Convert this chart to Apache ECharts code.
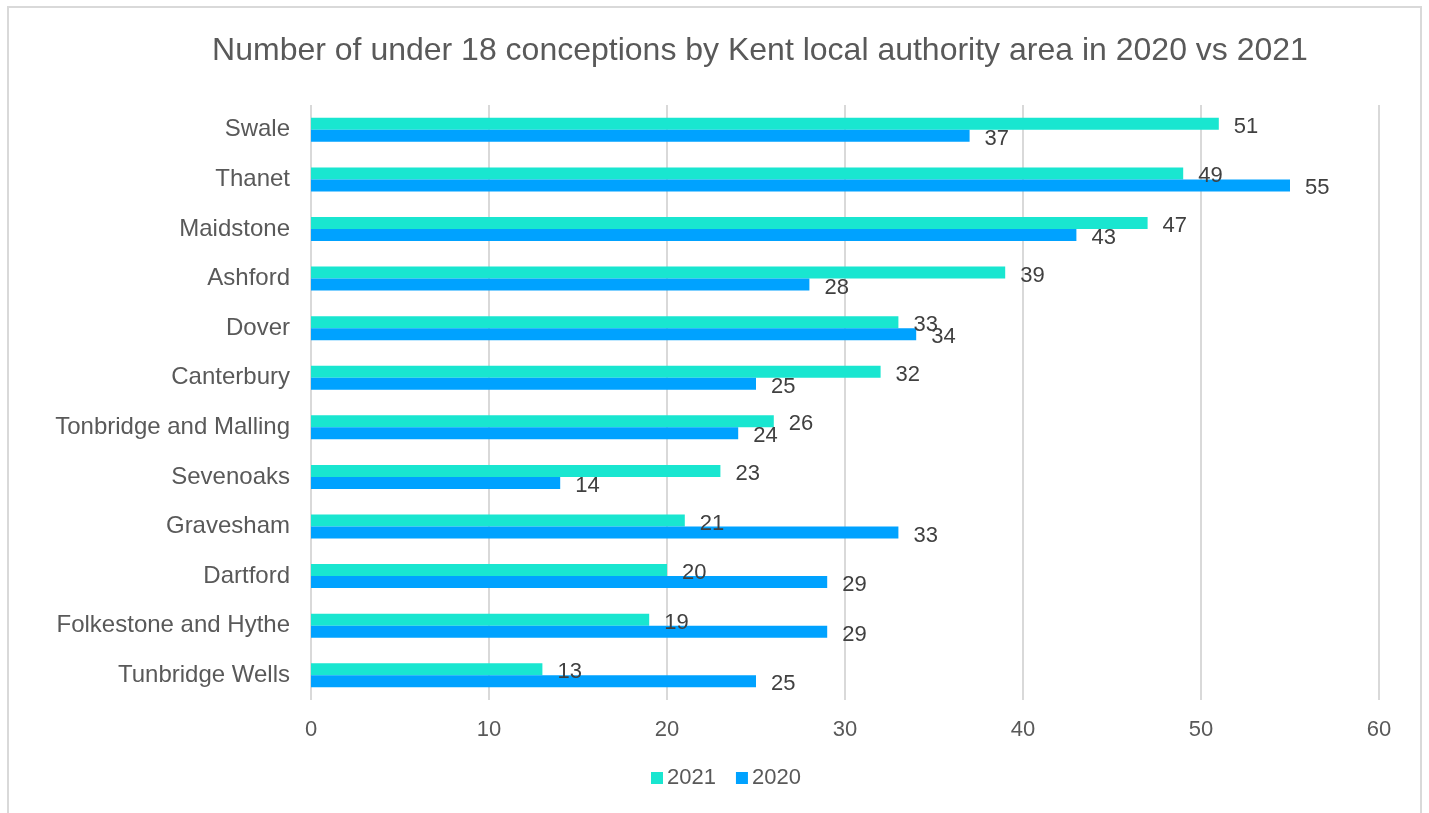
<!DOCTYPE html>
<html><head><meta charset="utf-8">
<script src="https://cdn.jsdelivr.net/npm/echarts@6/dist/echarts.min.js"></script>
<style>html,body{margin:0;padding:0;background:#fff}#c{width:1429px;height:813px}</style>
</head><body><div id="c"></div>
<script>
const categories = ["Swale","Thanet","Maidstone","Ashford","Dover","Canterbury","Tonbridge and Malling","Sevenoaks","Gravesham","Dartford","Folkestone and Hythe","Tunbridge Wells"];
const values2021 = [51,49,47,39,33,32,26,23,21,20,19,13];
const values2020 = [37,55,43,28,34,25,24,14,33,29,29,25];
const xTicks = {min:0, max:60, interval:10};
const titleText = "Number of under 18 conceptions by Kent local authority area in 2020 vs 2021";

const font = "'Liberation Sans', Arial, sans-serif";
const chart = echarts.init(document.getElementById('c'));
const lbl = {show:true, position:'right', distance:15, offset:[0,3], color:'#404040', fontSize:22, fontFamily:font};
chart.setOption({
  animation:false,
  graphic:[{type:'rect', shape:{x:8,y:7,width:1413,height:830}, style:{fill:'none', stroke:'#d9d9d9', lineWidth:2}, silent:true}],
  title:{text:titleText, left:755, textAlign:'center', top:30, textStyle:{fontFamily:font, fontSize:32, fontWeight:'normal', color:'#595959'}},
  legend:{bottom:19, left:646, itemWidth:12, itemHeight:12, itemGap:20, icon:'rect', textStyle:{fontFamily:font, fontSize:22, color:'#595959', padding:[0,0,0,-1]}, data:['2021','2020']},
  grid:{left:311, right:50, top:105, bottom:113},
  xAxis:{type:'value', min:xTicks.min, max:xTicks.max, interval:xTicks.interval,
    axisLine:{show:false}, axisTick:{show:false},
    splitLine:{lineStyle:{color:'#d9d9d9', width:2}},
    axisLabel:{margin:19, fontFamily:font, fontSize:22, color:'#595959'}},
  yAxis:{type:'category', data:categories, inverse:true,
    axisLine:{show:false}, axisTick:{show:false},
    axisLabel:{margin:21, fontFamily:font, fontSize:24, color:'#595959'}},
  series:[
    {name:'2021', type:'bar', data:values2021, barWidth:12, barGap:'0%', itemStyle:{color:'#19E6D0'}, label:lbl},
    {name:'2020', type:'bar', data:values2020, barWidth:12, barGap:'0%', itemStyle:{color:'#00A2FF'}, label:lbl}
  ]
});
</script></body></html>
